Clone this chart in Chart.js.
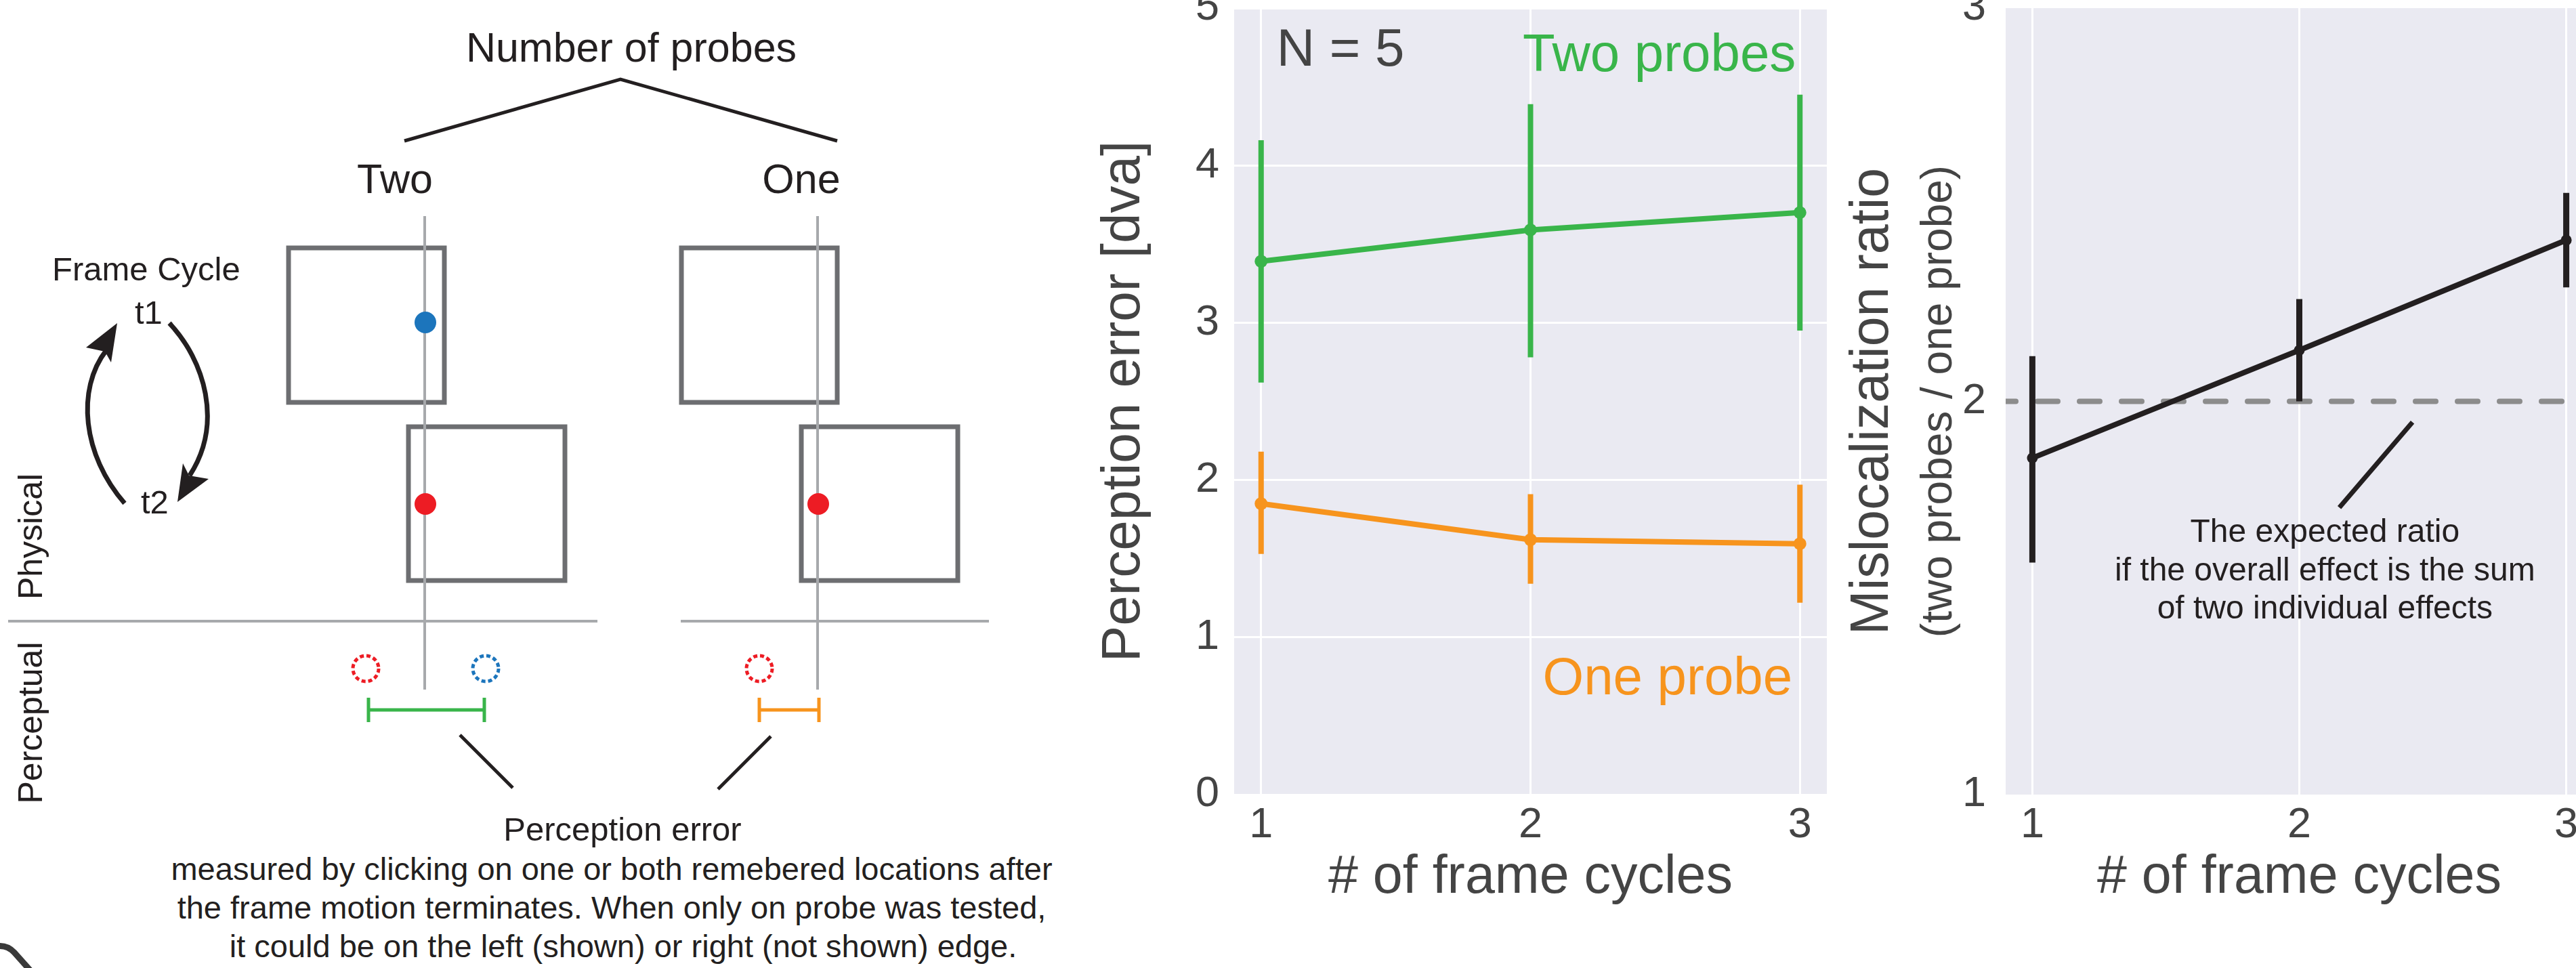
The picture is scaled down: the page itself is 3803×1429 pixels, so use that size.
<!DOCTYPE html>
<html>
<head>
<meta charset="utf-8">
<script src="https://cdn.jsdelivr.net/npm/chart.js@4/dist/chart.umd.min.js"></script>
<style>
  html, body { margin: 0; padding: 0; background: #fff; overflow: hidden; }
  #page { position: relative; width: 3803px; height: 1429px; overflow: hidden; }
  #page svg, #page canvas { position: absolute; top: 0; }
  #diagram { left: 0; }
  #errorChart { left: 1560px; }
  #ratioChart { left: 2700px; }
  text { font-family: "Liberation Sans", Arial, sans-serif; fill: #231f20; }
</style>
</head>
<body>
<div id="page">
<svg id="diagram" width="1560" height="1429" viewBox="0 0 1560 1429">
  <!-- header -->
  <text x="932" y="91" font-size="61" text-anchor="middle">Number of probes</text>
  <polyline points="597,208 916,117 1236,208" fill="none" stroke="#231f20" stroke-width="5"/>
  <text x="583" y="285" font-size="61" text-anchor="middle">Two</text>
  <text x="1183" y="285" font-size="61" text-anchor="middle">One</text>

  <!-- frame cycle -->
  <text x="77" y="414" font-size="49">Frame Cycle</text>
  <text x="199" y="478" font-size="49">t1</text>
  <text x="208" y="758" font-size="49">t2</text>
  <path d="M184,743 C122,672 112,575 157,517" fill="none" stroke="#231f20" stroke-width="7"/>
  <polygon points="173,477 127,513 155,519 164,535" fill="#231f20"/>
  <path d="M250,477 C302,532 330,625 280,702" fill="none" stroke="#231f20" stroke-width="7"/>
  <polygon points="262,741 270,684 279,702 308,707" fill="#231f20"/>

  <!-- side labels -->
  <text transform="translate(62,792) rotate(-90)" font-size="50" text-anchor="middle">Physical</text>
  <text transform="translate(62,1067) rotate(-90)" font-size="50" text-anchor="middle">Perceptual</text>

  <!-- frames -->
  <rect x="426" y="366" width="230" height="228" fill="none" stroke="#6d6e71" stroke-width="7"/>
  <rect x="603" y="630" width="231" height="227" fill="none" stroke="#6d6e71" stroke-width="7"/>
  <rect x="1006" y="366" width="230" height="228" fill="none" stroke="#6d6e71" stroke-width="7"/>
  <rect x="1183" y="630" width="231" height="227" fill="none" stroke="#6d6e71" stroke-width="7"/>
  <line x1="627" y1="319" x2="627" y2="1018" stroke="#a7a9ac" stroke-width="4"/>
  <line x1="1207" y1="319" x2="1207" y2="1018" stroke="#a7a9ac" stroke-width="4"/>
  <line x1="12" y1="917" x2="882" y2="917" stroke="#a7a9ac" stroke-width="4"/>
  <line x1="1005" y1="917" x2="1460" y2="917" stroke="#a7a9ac" stroke-width="4"/>

  <!-- probes -->
  <circle cx="628" cy="476" r="16" fill="#1c75bc"/>
  <circle cx="628" cy="744" r="16" fill="#ed1c24"/>
  <circle cx="1208" cy="744" r="16" fill="#ed1c24"/>
  <circle cx="540" cy="987" r="19" fill="none" stroke="#ed1c24" stroke-width="5" stroke-dasharray="6 4"/>
  <circle cx="717" cy="987" r="19" fill="none" stroke="#1c75bc" stroke-width="5" stroke-dasharray="6 4"/>
  <circle cx="1121" cy="987" r="19" fill="none" stroke="#ed1c24" stroke-width="5" stroke-dasharray="6 4"/>

  <!-- perceived error bars -->
  <path d="M544,1030 V1066 M544,1048 H715 M715,1030 V1066" fill="none" stroke="#39b54a" stroke-width="5"/>
  <path d="M1121,1030 V1066 M1121,1048 H1209 M1209,1030 V1066" fill="none" stroke="#f7941d" stroke-width="5"/>
  <line x1="679" y1="1085" x2="757" y2="1163" stroke="#231f20" stroke-width="5"/>
  <line x1="1138" y1="1087" x2="1060" y2="1165" stroke="#231f20" stroke-width="5"/>

  <text x="919" y="1241" font-size="49" text-anchor="middle">Perception error</text>
  <text x="903" y="1299" font-size="47" text-anchor="middle">measured by clicking on one or both remebered locations after</text>
  <text x="903" y="1356" font-size="47" text-anchor="middle">the frame motion terminates. When only on probe was tested,</text>
  <text x="920" y="1413" font-size="47" text-anchor="middle">it could be on the left (shown) or right (not shown) edge.</text>

  <path d="M-6,1397 Q10,1394 21,1406 L46,1434" fill="none" stroke="#3a3a3a" stroke-width="9"/>
</svg>
<canvas id="errorChart" width="1180" height="1429"></canvas>
<canvas id="ratioChart" width="1140" height="1429"></canvas>
</div>

<script>
// number of frame cycles
const cycles = [1, 2, 3]
const xTicks = [1, 2, 3]
const errorTicks = [0, 1, 2, 3, 4, 5]
const ratioTicks = [1, 2, 3]

// perception error [dva], mean and error bar ends
const twoMean = [3.39, 3.59, 3.70]
const twoLow = [2.62, 2.78, 2.95]
const twoHigh = [4.16, 4.39, 4.45]
const oneMean = [1.85, 1.62, 1.595]
const oneLow = [1.53, 1.34, 1.22]
const oneHigh = [2.18, 1.91, 1.97]

// mislocalization ratio (two probes / one probe)
const ratioMean = [1.856, 2.13, 2.41]
const ratioLow = [1.59, 2.0, 2.29]
const ratioHigh = [2.115, 2.26, 2.53]
const expectedRatio = 2

// text notes placed in data units
const errorNotes = [
  { text: 'N = 5', x: 1.058, y: 4.634, color: '#444444', align: 'left' },
  { text: 'Two probes', x: 2.985, y: 4.60, color: '#39b54a', align: 'right' },
  { text: 'One probe', x: 2.972, y: 0.636, color: '#f7941d', align: 'right' }
]
const ratioNotes = [
  { text: 'The expected ratio', x: 2.096, y: 1.6425 },
  { text: 'if the overall effect is the sum', x: 2.096, y: 1.5444 },
  { text: 'of two individual effects', x: 2.096, y: 1.448 }
]
const pointerLine = [{ x: 2.424, y: 1.947 }, { x: 2.15, y: 1.73 }]

const FONT = '"Liberation Sans", Arial, sans-serif'
const GREEN = '#39b54a'
const ORANGE = '#f7941d'
const BLACK = '#231f20'
const TEXT = '#444444'

Chart.defaults.font.family = FONT
Chart.defaults.animation = false

const plotBackground = {
  id: 'plotBackground',
  beforeDraw(chart) {
    const { ctx, chartArea: a } = chart
    ctx.save()
    ctx.fillStyle = '#eaeaf2'
    ctx.fillRect(a.left, a.top, a.right - a.left, a.bottom - a.top)
    ctx.restore()
  }
}

const notes = {
  id: 'notes',
  afterDraw(chart, args, opts) {
    const { ctx, scales } = chart
    ctx.save()
    ctx.textBaseline = 'alphabetic'
    ctx.font = opts.size + 'px ' + FONT
    opts.items.forEach(n => {
      ctx.fillStyle = n.color || opts.color
      ctx.textAlign = n.align || 'center'
      ctx.fillText(n.text, scales.x.getPixelForValue(n.x), scales.y.getPixelForValue(n.y))
    })
    if (opts.subtitle) {
      const y = scales.y
      ctx.translate(y.left + opts.subtitle.offset, (y.top + y.bottom) / 2)
      ctx.rotate(-Math.PI / 2)
      ctx.textAlign = 'center'
      ctx.textBaseline = 'middle'
      ctx.fillStyle = TEXT
      ctx.font = opts.subtitle.size + 'px ' + FONT
      ctx.fillText(opts.subtitle.text, 0, 0)
    }
    ctx.restore()
  }
}

const errorBars = (low, high, color, width) => cycles.map((c, i) => ({
  data: [{ x: c, y: low[i] }, { x: c, y: high[i] }],
  borderColor: color,
  borderWidth: width,
  borderCapStyle: 'butt',
  pointRadius: 0
}))

const meanLine = (values, color, width, radius) => ({
  data: cycles.map((c, i) => ({ x: c, y: values[i] })),
  borderColor: color,
  backgroundColor: color,
  borderWidth: width,
  pointRadius: radius,
  pointBorderWidth: 0,
  pointBackgroundColor: color
})

const xAxis = (height, titlePad) => ({
  type: 'linear',
  min: 0.9,
  max: 3.1,
  afterBuildTicks: s => { s.ticks = xTicks.map(v => ({ value: v })) },
  afterFit: s => { s.height = height; s.paddingLeft = 0; s.paddingRight = 0 },
  grid: { color: '#ffffff', lineWidth: 3, drawTicks: false },
  border: { display: false },
  ticks: { color: TEXT, font: { size: 63, lineHeight: 1.2 }, padding: 8 },
  title: {
    display: true, text: '# of frame cycles', color: TEXT,
    font: { size: 79, lineHeight: 1 }, padding: { top: 0, bottom: titlePad }
  }
})

new Chart(document.getElementById('errorChart'), {
  type: 'line',
  data: {
    datasets: [
      meanLine(twoMean, GREEN, 8, 9.5),
      meanLine(oneMean, ORANGE, 8, 9.5),
      ...errorBars(twoLow, twoHigh, GREEN, 8),
      ...errorBars(oneLow, oneHigh, ORANGE, 8)
    ]
  },
  options: {
    responsive: false,
    layout: { padding: { left: 60, right: 43, top: 12, bottom: 0 } },
    plugins: {
      legend: { display: false },
      tooltip: { enabled: false },
      notes: { items: errorNotes, size: 78 }
    },
    scales: {
      x: xAxis(256, 93),
      y: {
        min: 0,
        max: 5,
        afterBuildTicks: s => { s.ticks = errorTicks.map(v => ({ value: v })) },
        afterFit: s => { s.width = 202; s.paddingTop = 0; s.paddingBottom = 0 },
        grid: { color: '#ffffff', lineWidth: 3, drawTicks: false },
        border: { display: false },
        ticks: { color: TEXT, font: { size: 63 }, padding: 22 },
        title: {
          display: true, text: 'Perception error [dva]', color: TEXT,
          font: { size: 80, lineHeight: 1 }, padding: { top: 0, bottom: 0 }
        }
      }
    }
  },
  plugins: [plotBackground, notes]
})

new Chart(document.getElementById('ratioChart'), {
  type: 'line',
  data: {
    datasets: [
      meanLine(ratioMean, BLACK, 8, 8),
      ...errorBars(ratioLow, ratioHigh, BLACK, 9),
      {
        data: pointerLine,
        borderColor: BLACK,
        borderWidth: 7,
        pointRadius: 0
      },
      {
        data: [{ x: 0.9, y: expectedRatio }, { x: 3.1, y: expectedRatio }],
        borderColor: '#8c8c8c',
        borderWidth: 8,
        borderDash: [30, 32],
        borderDashOffset: 15,
        borderCapStyle: 'round',
        pointRadius: 0,
        order: 10
      }
    ]
  },
  options: {
    responsive: false,
    layout: { padding: { left: 26, right: 12, top: 12, bottom: 0 } },
    plugins: {
      legend: { display: false },
      tooltip: { enabled: false },
      notes: {
        items: ratioNotes, size: 48, color: BLACK,
        subtitle: { text: '(two probes / one probe)', size: 64, offset: 137 }
      }
    },
    scales: {
      x: xAxis(256, 93),
      y: {
        min: 1,
        max: 3,
        afterBuildTicks: s => { s.ticks = ratioTicks.map(v => ({ value: v })) },
        afterFit: s => { s.width = 235; s.paddingTop = 0; s.paddingBottom = 0 },
        grid: { display: false },
        border: { display: false },
        ticks: { color: TEXT, font: { size: 63 }, padding: 21 },
        title: {
          display: true, text: 'Mislocalization ratio', color: TEXT,
          font: { size: 79, lineHeight: 1 }, padding: { top: 0, bottom: 0 }
        }
      }
    }
  },
  plugins: [plotBackground, notes]
})
</script>
</body>
</html>
